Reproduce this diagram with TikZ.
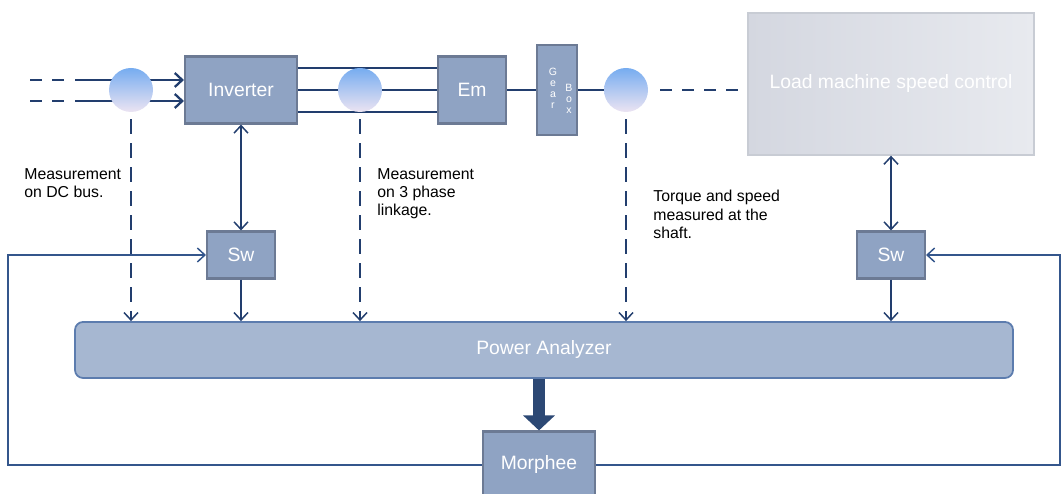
\documentclass[tikz,border=0pt]{standalone}
\usepackage{fontspec}
\setmainfont{Liberation Sans}
\usetikzlibrary{positioning,arrows.meta,shapes.geometric}
\definecolor{boxfill}{RGB}{143,163,195}
\definecolor{boxline}{RGB}{108,122,148}
\definecolor{pafill}{RGB}{166,183,209}
\definecolor{paline}{RGB}{92,124,174}
\definecolor{wire}{RGB}{34,62,110}
\definecolor{fbwire}{RGB}{52,86,140}
\definecolor{bigarrow}{RGB}{44,72,116}
\definecolor{probetop}{RGB}{118,172,240}
\definecolor{probemid}{RGB}{146,194,246}
\definecolor{probebot}{RGB}{236,228,242}
\definecolor{loadA}{RGB}{212,215,224}
\definecolor{loadB}{RGB}{232,234,239}
\definecolor{loadline}{RGB}{200,204,212}
\tikzset{
  >={Straight Barb[length=1.5mm,width=2.8mm]},
  blk/.style={draw=boxline,fill=boxfill,line width=1.2pt,text=white,
    font=\fontsize{11}{13}\selectfont,inner sep=0pt},
  pa/.style={draw=paline,fill=pafill,line width=1pt,rounded corners=0.16cm,
    minimum width=18.76cm,minimum height=1.12cm,text=white,
    font=\fontsize{11}{13}\selectfont,inner sep=0pt},
  loadbox/.style={draw=loadline,left color=loadA,right color=loadB,
    line width=0.8pt,minimum width=5.72cm,minimum height=2.84cm,text=white,
    font=\fontsize{11}{13}\selectfont,inner sep=0pt},
  probe/.style={circle,minimum size=0.88cm,inner sep=0pt,
    top color=probetop,middle color=probemid,bottom color=probebot},
  geartxt/.style={align=center,text=white,inner sep=0pt,
    font=\fontsize{6}{6.3}\selectfont},
  note/.style={anchor=north west,align=left,inner sep=0pt,
    font=\fontsize{9}{10.4}\selectfont},
  conn/.style={wire,line width=0.85pt},
  phase/.style={wire,line width=1.3pt},
  dline/.style={wire,line width=1.3pt,dash pattern=on 0.24cm off 0.2cm},
  meas/.style={wire,line width=0.85pt,dash pattern=on 0.3cm off 0.18cm},
  fb/.style={fbwire,line width=0.85pt},
  thickarrow/.style={bigarrow,line width=0.24cm,
    -{Triangle[length=0.3cm,width=0.62cm]}},
}
\begin{document}
\begin{tikzpicture}
  \useasboundingbox (0,0) rectangle (21.24,9.88);
  % drive chain
  \node[blk,minimum width=2.24cm,minimum height=1.34cm] (inv) at (4.82,8.08) {Inverter};
  \node[blk,minimum width=1.36cm,minimum height=1.34cm] (em) at (9.44,8.08) {Em};
  \node[blk,minimum width=0.8cm,minimum height=1.8cm] (gear) at (11.14,8.08) {};
  \node[geartxt] (gearL) at (11.06,8.12) {G\\e\\a\\r};
  \node[geartxt] (gearR) at (11.38,7.9) {B\\o\\x};
  \node[loadbox] (load) at (17.82,8.2) {Load machine speed control};
  \node[blk,minimum width=1.36cm,minimum height=0.94cm] (sw1) at (4.82,4.78) {Sw};
  \node[blk,minimum width=1.36cm,minimum height=0.94cm] (sw2) at (17.82,4.78) {Sw};
  \node[pa] (pa) at (10.88,2.88) {Power Analyzer};
  \node[blk,minimum width=2.24cm,minimum height=1.34cm] (morph) at (10.78,0.58) {Morphee};

  % DC bus in
  \coordinate (dcA) at (0.6,8.28);
  \coordinate (dcB) at (0.6,7.86);
  \coordinate (dcA2) at (1.5,8.28);
  \coordinate (dcB2) at (1.5,7.86);
  \draw[dline] (dcA) -- +(0.7,0);
  \draw[dline] (dcB) -- +(0.7,0);
  \draw[phase,->] (dcA2) -- (dcA2 -| inv.west);
  \draw[phase,->] (dcB2) -- (dcB2 -| inv.west);
  % 3 phases and shaft
  \foreach \dy in {0.44,0,-0.44}
    \draw[phase] ([yshift=\dy cm]inv.east) -- ([yshift=\dy cm]em.west);
  \draw[phase] (em) -- (gear);
  \draw[phase] (gear.east) -- ++(0.8,0);

  % probes
  \node[probe] (pdc) at (2.62,8.08) {};
  \node[probe] (pac) at (7.2,8.08) {};
  \node[probe] (pshaft) at (12.52,8.08) {};
  \draw[dline,shorten <=0.24cm,shorten >=0.16cm] (pshaft.east) -- (pshaft.east -| load.west);

  % measurements
  \foreach \p in {pdc,pac,pshaft}
    \draw[meas,->,shorten <=0.14cm] (\p.south) -- (\p.south |- pa.north);
  \draw[conn,<->] (inv.south) -- (sw1.north);
  \draw[conn,->] (sw1.south) -- (sw1.south |- pa.north);
  \draw[conn,<->] (load.south) -- (sw2.north);
  \draw[conn,->] (sw2.south) -- (sw2.south |- pa.north);
  \draw[thickarrow] (pa.south -| morph.north) -- (morph.north);

  % feedback from Morphee
  \coordinate (fbL) at (0.16,0.58);
  \coordinate (fbR) at (21.2,0.58);
  \draw[fb,->] (morph.west) -- (fbL) |- (sw1.west);
  \draw[fb,->] (morph.east) -- (fbR) |- (sw2.east);

  % notes
  \node[note] (ndc) at (0.48,6.52) {Measurement\\on DC bus.};
  \node[note] (nac) at (7.54,6.52) {Measurement\\on 3 phase\\linkage.};
  \node[note] (nshaft) at (13.06,6.08) {Torque and speed\\measured at the\\shaft.};
\end{tikzpicture}
\end{document}
